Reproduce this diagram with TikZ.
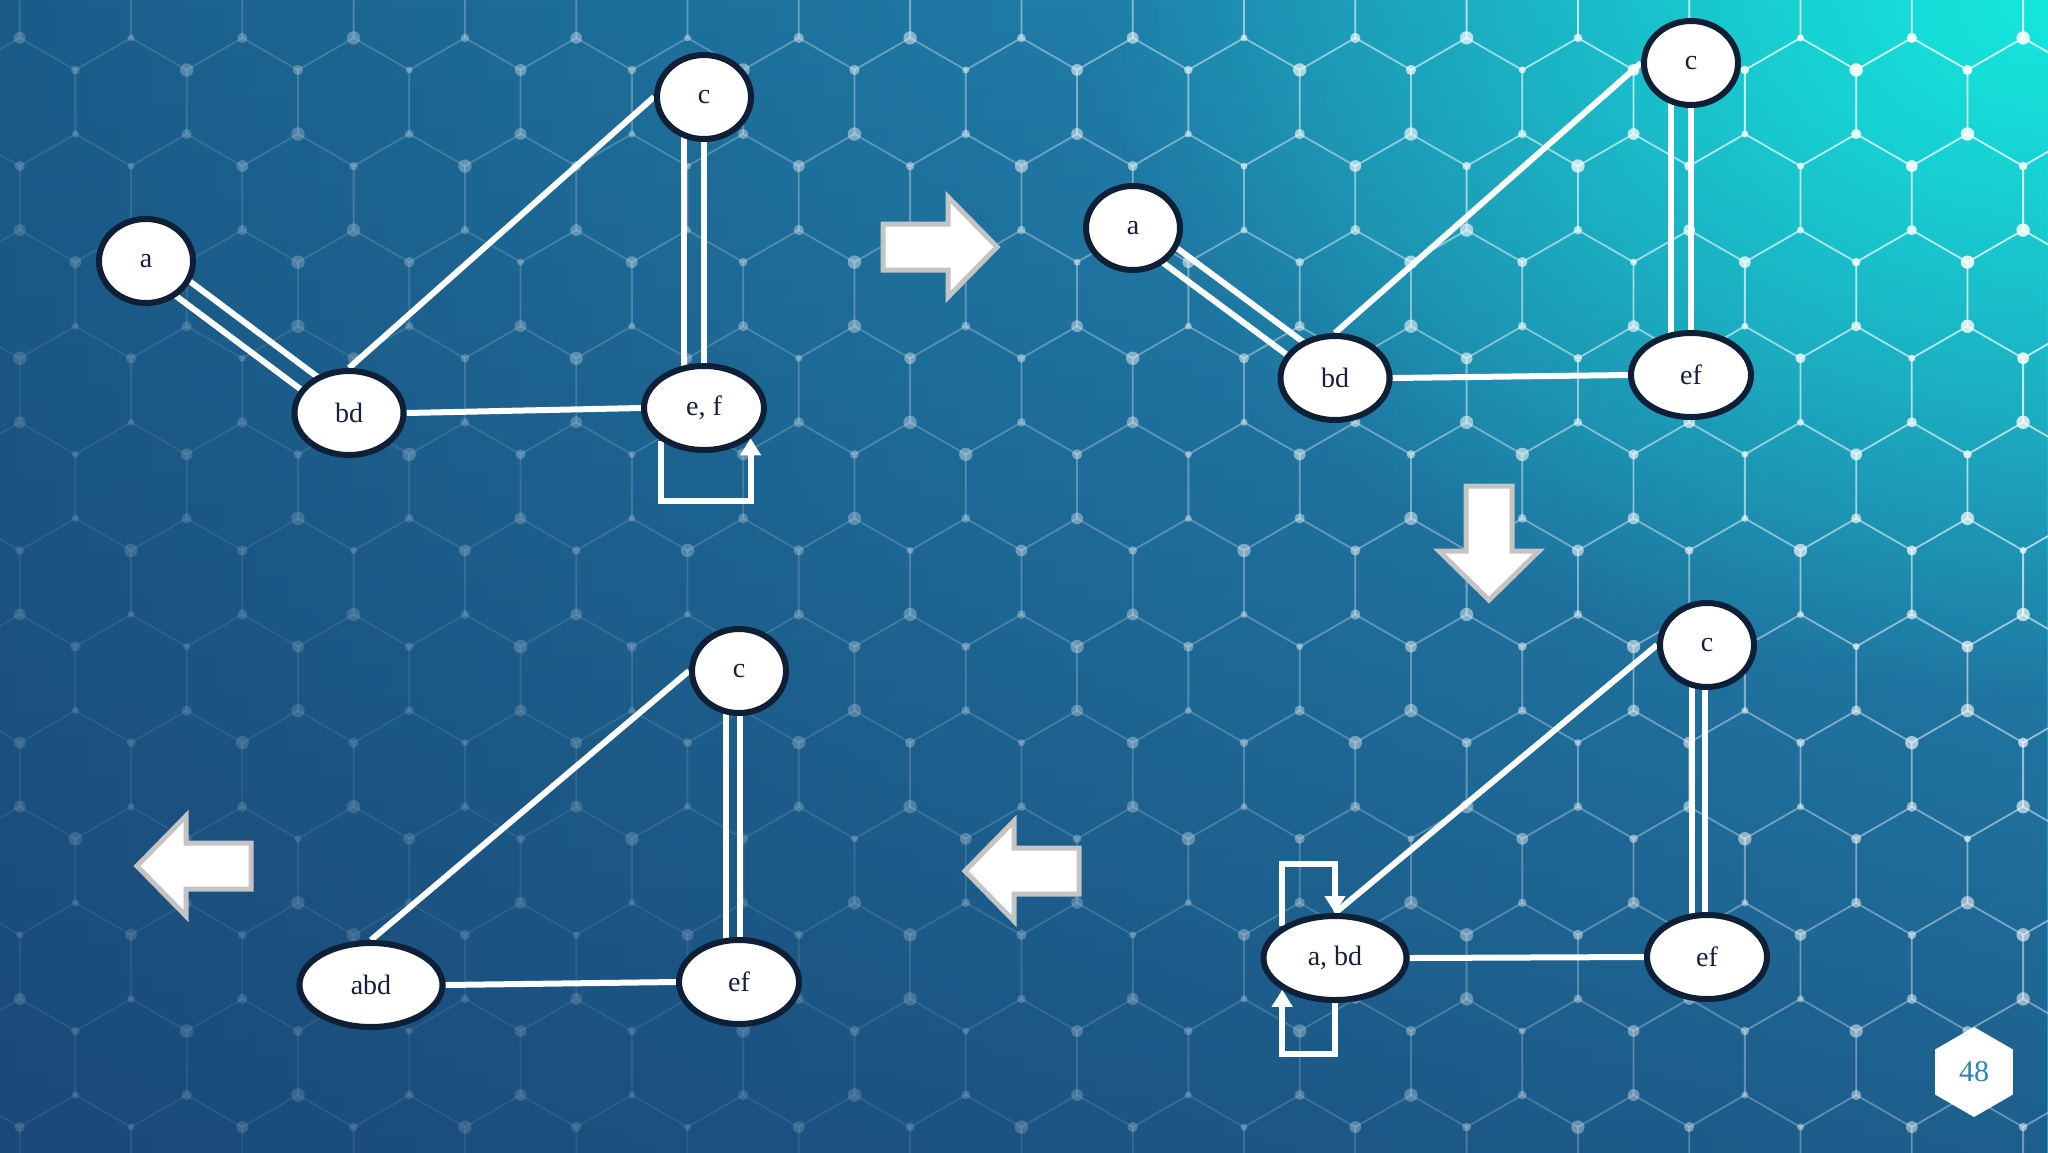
\documentclass[tikz,border=0pt]{standalone}
\usepackage{fontspec}
\setmainfont{Liberation Serif}
\usetikzlibrary{shapes.geometric,arrows.meta,calc,fadings}

\definecolor{bgleft}{HTML}{1B5C89}
\definecolor{bgright}{HTML}{2499C2}
\definecolor{bgdeep}{HTML}{1A3F70}
\definecolor{glowcyan}{HTML}{14E8DC}
\definecolor{rimnavy}{HTML}{0E1F36}
\definecolor{labelnavy}{HTML}{17203A}
\definecolor{arrowgray}{HTML}{C4C4C4}
\definecolor{pageteal}{HTML}{2B86AD}

\tikzfading[name=fadeup, top color=transparent!100, bottom color=transparent!35]
\tikzfading[name=glow, inner color=transparent!0, outer color=transparent!100]

\pgfdeclarelayer{bg}
\pgfdeclarelayer{edges}
\pgfsetlayers{bg,edges,main}

\tikzset{
  vertex/.style={ellipse, draw=rimnavy, line width=6pt, fill=white, text=labelnavy,
    inner sep=0pt, minimum width=94pt, minimum height=84pt, font=\fontsize{28}{32}\selectfont},
  wide/.style={minimum width=#1},
  link/.style={white, line width=6pt},
  selfloop/.style={link, -{Triangle[width=20pt,length=17pt]}},
  hexline/.style={white, line width=1.8pt},
  blockarrow/.style={fill=white, draw=arrowgray, line width=5pt},
  bigarrow/.pic={\draw[blockarrow] (-57,-23) -- (8,-23) -- (8,-50) -- (57,0) -- (8,50) -- (8,23) -- (-57,23) -- cycle;},
  pagehex/.style={regular polygon, regular polygon sides=6, shape border rotate=30,
    fill=white, inner sep=0pt, minimum size=90pt, text=pageteal, font=\fontsize{30}{34}\selectfont}
}

\begin{document}
\begin{tikzpicture}[x=1pt, y=-1pt]
    \useasboundingbox (0,0) rectangle (2048,1152);

    % backdrop with the hexagon net
    \begin{pgfonlayer}{bg}
    \shade[left color=bgleft, right color=bgright] (0,0) rectangle (2048,1152);
    \fill[bgdeep, path fading=fadeup] (0,0) rectangle (2048,1152);
    \fill[glowcyan, path fading=glow] (2048,0) ellipse (950 and 700);
    \foreach \j in {-1,...,11}
      \foreach \i in {-1,...,18}{
        \pgfmathsetmacro\cx{131+111.3*\i-55.65*mod(\j+2,2)}
        \pgfmathsetmacro\cy{102+96.1*\j}
        \pgfmathsetmacro\fo{max(min(0.9*\cx/2048+0.5*(1-\cy/1152)-0.3,1),0.001)}
        \pgfmathsetmacro\lo{0.08+0.72*\fo^1.8}
        \pgfmathsetmacro\dop{0.14+0.76*\fo^1.5}
        \pgfmathsetmacro\ra{3.5+0.8*mod(7*\i+5*\j+20,5)}
        \pgfmathsetmacro\rb{3.5+0.8*mod(3*\i+11*\j+31,5)}
        \draw[hexline, draw opacity=\lo] (\cx-55.65,\cy+32.05) -- (\cx-55.65,\cy-32.05)
            -- (\cx,\cy-64.1) -- (\cx+55.65,\cy-32.05);
        \fill[white, fill opacity=\dop] (\cx,\cy-64.1) circle (\ra);
        \fill[white, fill opacity=\dop] (\cx-55.65,\cy-32.05) circle (\rb);
      }
    \end{pgfonlayer}

    % first graph
    \node[vertex] (c1) at (704,97) {c};
    \node[vertex] (a1) at (146,261) {a};
    \node[vertex, wide=109pt] (bd1) at (349,413) {bd};
    \node[vertex, wide=120pt] (ef1) at (704,408) {e, f};

    % second graph
    \node[vertex] (c2) at (1691,63) {c};
    \node[vertex] (a2) at (1133,228) {a};
    \node[vertex, wide=109pt] (bd2) at (1335,378) {bd};
    \node[vertex, wide=120pt] (ef2) at (1691,375) {ef};

    % third graph
    \node[vertex] (c3) at (1707,645) {c};
    \node[vertex, wide=143pt] (abd3) at (1335,958) {a, bd};
    \node[vertex, wide=120pt] (ef3) at (1707,957) {ef};

    % fourth graph
    \node[vertex] (c4) at (739,671) {c};
    \node[vertex, wide=143pt] (abd4) at (371,985) {abd};
    \node[vertex, wide=120pt] (ef4) at (739,982) {ef};

    \begin{pgfonlayer}{edges}
    \draw[link] ($(a1)!10pt!90:(bd1)$) -- ($(bd1)!10pt!-90:(a1)$);
    \draw[link] ($(a1)!10pt!-90:(bd1)$) -- ($(bd1)!10pt!90:(a1)$);
    \draw[link] (c1.west) -- (bd1.north);
    \draw[link] (bd1.east) -- (ef1.west);
    \draw[link] ([xshift=-20pt]c1.center) -- ([xshift=-20pt]ef1.center);
    \draw[link] (c1.center) -- (ef1.center);
    \draw[selfloop] (ef1.-143) -- ++(0,60) -| (ef1.-33);

    \draw[link] ($(a2)!10pt!90:(bd2)$) -- ($(bd2)!10pt!-90:(a2)$);
    \draw[link] ($(a2)!10pt!-90:(bd2)$) -- ($(bd2)!10pt!90:(a2)$);
    \draw[link] (c2.west) -- (bd2.north);
    \draw[link] (bd2.east) -- (ef2.west);
    \draw[link] ([xshift=-20pt]c2.center) -- ([xshift=-20pt]ef2.center);
    \draw[link] (c2.center) -- (ef2.center);

    \draw[link] (c3.west) -- (abd3.north);
    \draw[link] (abd3.east) -- (ef3.west);
    \draw[link] ([xshift=-15pt]c3.center) -- ([xshift=-15pt]ef3.center);
    \draw[link] ([xshift=-2pt]c3.center) -- ([xshift=-2pt]ef3.center);
    \draw[selfloop] (abd3.149) -- ++(0,-62) -| (abd3.north);
    \draw[selfloop] (abd3.south) -- ++(0,51) -| (abd3.-149);

    \draw[link] (c4.west) -- (abd4.north);
    \draw[link] (abd4.east) -- (ef4.west);
    \draw[link] ([xshift=-13pt]c4.center) -- ([xshift=-13pt]ef4.center);
    \draw[link] ([xshift=1pt]c4.center) -- ([xshift=1pt]ef4.center);
    \end{pgfonlayer}

    % block arrows between the steps
    \pic at (940,247) {bigarrow};
    \pic[rotate=-90] at (1489,543) {bigarrow};
    \pic[rotate=180] at (1022,871) {bigarrow};
    \pic[rotate=180] at (194,866) {bigarrow};

    \node[pagehex] (page) at (1974,1072) {48};
\end{tikzpicture}
\end{document}
